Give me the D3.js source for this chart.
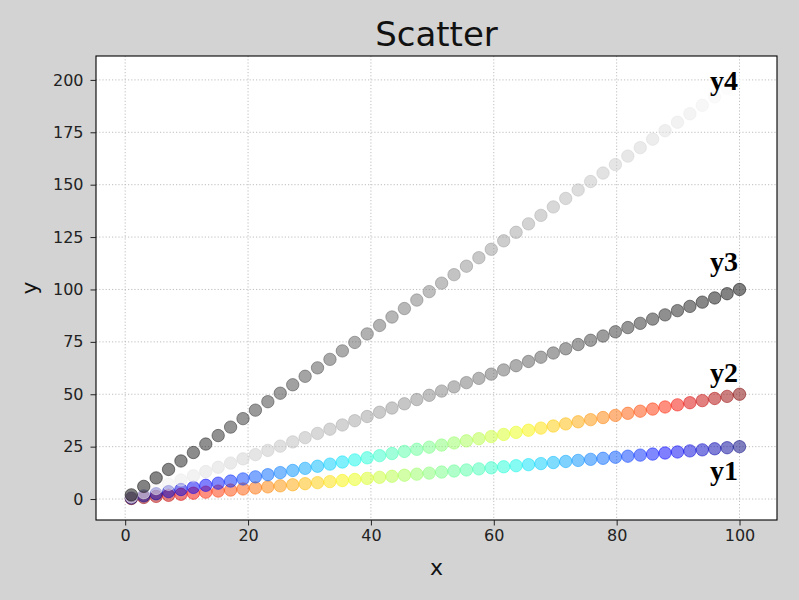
<!DOCTYPE html>
<html>
<head>
<meta charset="utf-8">
<script src="https://cdn.jsdelivr.net/npm/d3@7/dist/d3.min.js"></script>
<style>
  html, body { margin: 0; padding: 0; background: #d3d3d3; }
  svg { display: block; }
</style>
</head>
<body>
<svg id="chart" width="799" height="600"></svg>
<script>
// ---- data ----
const xValues = [1,3.02,5.04,7.06,9.08,11.1,13.12,15.14,17.16,19.18,21.2,23.22,25.24,27.27,29.29,31.31,33.33,35.35,37.37,39.39,41.41,43.43,45.45,47.47,49.49,51.51,53.53,55.55,57.57,59.59,61.61,63.63,65.65,67.67,69.69,71.71,73.73,75.76,77.78,79.8,81.82,83.84,85.86,87.88,89.9,91.92,93.94,95.96,97.98,100];
const y1Values = [0.25,0.76,1.26,1.77,2.27,2.78,3.28,3.79,4.29,4.8,5.3,5.81,6.31,6.82,7.32,7.83,8.33,8.84,9.34,9.85,10.35,10.86,11.36,11.87,12.37,12.88,13.38,13.89,14.39,14.9,15.4,15.91,16.41,16.92,17.42,17.93,18.43,18.94,19.44,19.95,20.45,20.96,21.46,21.97,22.47,22.98,23.48,23.99,24.49,25];
const y2Values = [0.5,1.51,2.52,3.53,4.54,5.55,6.56,7.57,8.58,9.59,10.6,11.61,12.62,13.63,14.64,15.65,16.66,17.67,18.68,19.69,20.7,21.71,22.72,23.73,24.74,25.76,26.77,27.78,28.79,29.8,30.81,31.82,32.83,33.84,34.85,35.86,36.87,37.88,38.89,39.9,40.91,41.92,42.93,43.94,44.95,45.96,46.97,47.98,48.99,50];
const y3Values = [1,3.02,5.04,7.06,9.08,11.1,13.12,15.14,17.16,19.18,21.2,23.22,25.24,27.27,29.29,31.31,33.33,35.35,37.37,39.39,41.41,43.43,45.45,47.47,49.49,51.51,53.53,55.55,57.57,59.59,61.61,63.63,65.65,67.67,69.69,71.71,73.73,75.76,77.78,79.8,81.82,83.84,85.86,87.88,89.9,91.92,93.94,95.96,97.98,100];
const y4Values = [2,6.04,10.08,14.12,18.16,22.2,26.24,30.29,34.33,38.37,42.41,46.45,50.49,54.53,58.57,62.61,66.65,70.69,74.73,78.78,82.82,86.86,90.9,94.94,98.98,103.02,107.06,111.1,115.14,119.18,123.22,127.27,131.31,135.35,139.39,143.43,147.47,151.51,155.55,159.59,163.63,167.67,171.71,175.76,179.8,183.84,187.88,191.92,195.96,200];
const seriesNames = ["y1", "y2", "y3", "y4"];
const seriesColormaps = ["jet_r", "jet", "gray_r", "gray"];
const labelX = [95.2, 95.2, 95.2, 95.2];
const labelY = [9.2, 55.8, 108.8, 195.4];
const xTicks = [0, 20, 40, 60, 80, 100];
const yTicks = [0, 25, 50, 75, 100, 125, 150, 175, 200];
const titleText = "Scatter";
const xLabelText = "x";
const yLabelText = "y";

// ---- layout ----
const plot = { left: 96, right: 777, top: 56, bottom: 520 };
const svg = d3.select("#chart");

const x = d3.scaleLinear().domain([-4.75, 106.1]).range([plot.left, plot.right]);
const y = d3.scaleLinear().domain([-10, 211.4]).range([plot.bottom, plot.top]);

// colormaps (matplotlib jet segment data)
const jetR = d3.scaleLinear().domain([0, 0.35, 0.66, 0.89, 1]).range([0, 0, 1, 1, 0.5]).clamp(true);
const jetG = d3.scaleLinear().domain([0, 0.125, 0.375, 0.64, 0.91, 1]).range([0, 0, 1, 1, 0, 0]).clamp(true);
const jetB = d3.scaleLinear().domain([0, 0.11, 0.34, 0.65, 1]).range([0.5, 1, 1, 0, 0]).clamp(true);
function jet(t) { return d3.rgb(jetR(t) * 255, jetG(t) * 255, jetB(t) * 255).toString(); }
function gray(t) { const v = Math.round(t * 255); return d3.rgb(v, v, v).toString(); }
const cmaps = {
  jet: t => jet(t),
  jet_r: t => jet(1 - t),
  gray: t => gray(t),
  gray_r: t => gray(1 - t)
};
const cNorm = d3.scaleLinear().domain(d3.extent(xValues)).range([0, 1]);

// axes background
svg.append("rect")
  .attr("x", plot.left).attr("y", plot.top)
  .attr("width", plot.right - plot.left).attr("height", plot.bottom - plot.top)
  .attr("fill", "#ffffff");

// grid
const grid = svg.append("g");
grid.selectAll("line.gx").data(xTicks).join("line")
  .attr("x1", d => x(d)).attr("x2", d => x(d))
  .attr("y1", plot.top).attr("y2", plot.bottom)
  .attr("stroke", "#b8b8b8").attr("stroke-width", 0.9).attr("stroke-dasharray", "1.2,2");
grid.selectAll("line.gy").data(yTicks).join("line")
  .attr("y1", d => y(d)).attr("y2", d => y(d))
  .attr("x1", plot.left).attr("x2", plot.right)
  .attr("stroke", "#b8b8b8").attr("stroke-width", 0.9).attr("stroke-dasharray", "1.2,2");

// points
const allY = [y1Values, y2Values, y3Values, y4Values];
allY.forEach((vals, si) => {
  const cm = cmaps[seriesColormaps[si]];
  const pts = xValues.map((xv, i) => ({ x: xv, y: vals[i] }));
  svg.append("g").selectAll("circle").data(pts).join("circle")
    .attr("cx", d => x(d.x)).attr("cy", d => y(d.y)).attr("r", 6.2)
    .attr("fill", d => cm(cNorm(d.x)))
    .attr("stroke", d => cm(cNorm(d.x)))
    .attr("stroke-width", 1)
    .attr("fill-opacity", 0.5).attr("stroke-opacity", 0.5);
});

// series labels
svg.append("g").selectAll("text").data(seriesNames).join("text")
  .attr("x", (d, i) => x(labelX[i]))
  .attr("y", (d, i) => y(labelY[i]))
  .attr("font-family", "'Liberation Serif', 'Times New Roman', serif")
  .attr("font-weight", "bold").attr("font-size", 28)
  .attr("fill", "#000")
  .text(d => d);

// frame
svg.append("rect")
  .attr("x", plot.left).attr("y", plot.top)
  .attr("width", plot.right - plot.left).attr("height", plot.bottom - plot.top)
  .attr("fill", "none").attr("stroke", "#000").attr("stroke-width", 1.1);

// x axis
const xAxis = d3.axisBottom(x).tickValues(xTicks).tickSize(5.5).tickPadding(4).tickFormat(d3.format("d"));
const gx = svg.append("g").attr("transform", `translate(0,${plot.bottom})`).call(xAxis);
gx.select(".domain").remove();
gx.selectAll("line").attr("stroke", "#222").attr("stroke-width", 1);
gx.selectAll("text").attr("font-family", "'DejaVu Sans', sans-serif").attr("font-size", 16).attr("fill", "#222");

// y axis
const yAxis = d3.axisLeft(y).tickValues(yTicks).tickSize(5.5).tickPadding(7).tickFormat(d3.format("d"));
const gy = svg.append("g").attr("transform", `translate(${plot.left},0)`).call(yAxis);
gy.select(".domain").remove();
gy.selectAll("line").attr("stroke", "#222").attr("stroke-width", 1);
gy.selectAll("text").attr("font-family", "'DejaVu Sans', sans-serif").attr("font-size", 16).attr("fill", "#222");

// title
svg.append("text")
  .attr("x", (plot.left + plot.right) / 2).attr("y", 46)
  .attr("text-anchor", "middle")
  .attr("font-family", "'DejaVu Sans', sans-serif").attr("font-size", 34)
  .attr("fill", "#111")
  .text(titleText);

// axis labels
svg.append("text")
  .attr("x", (plot.left + plot.right) / 2).attr("y", 575)
  .attr("text-anchor", "middle")
  .attr("font-family", "'DejaVu Sans', sans-serif").attr("font-size", 22)
  .attr("fill", "#111")
  .text(xLabelText);
svg.append("text")
  .attr("transform", `translate(37,${(plot.top + plot.bottom) / 2}) rotate(-90)`)
  .attr("text-anchor", "middle")
  .attr("font-family", "'DejaVu Sans', sans-serif").attr("font-size", 22)
  .attr("fill", "#111")
  .text(yLabelText);
</script>
</body>
</html>
